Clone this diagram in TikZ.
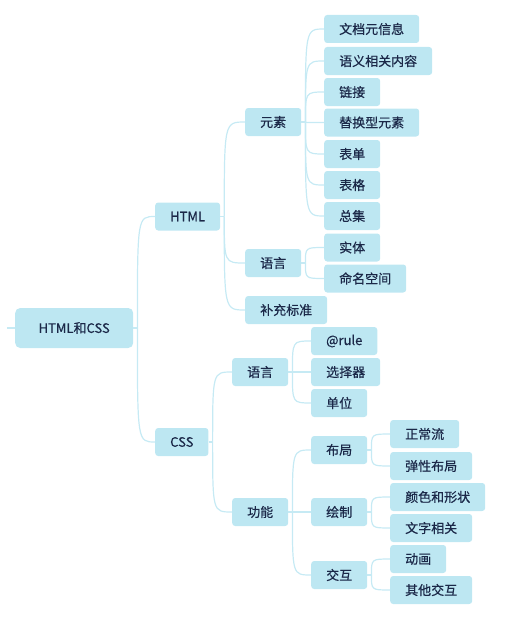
\documentclass[tikz,border=0pt]{standalone}
\usepackage{fontspec}
\setmainfont{Noto Sans CJK SC}[FakeBold=0.5]
\usetikzlibrary{calc}
\definecolor{boxfill}{HTML}{BDE7F2}
\definecolor{linecol}{HTML}{C6EAF4}
\definecolor{txtcol}{HTML}{1B2848}

\begin{document}
\begin{tikzpicture}[x=1pt, y=-1pt,
  box/.style={fill=boxfill, rounded corners=3pt, text=txtcol, anchor=west,
    minimum height=28pt, inner xsep=15pt, inner ysep=0pt, font=\fontsize{13}{15}\selectfont},
  topbox/.style={box, minimum height=40pt, minimum width=118pt, rounded corners=5pt},
  branch/.style={draw=linecol, line width=1.2pt}]
\useasboundingbox (0,0) rectangle (520,618);
% root
\node[topbox] (root) at (15,328) {HTML和CSS};
\coordinate (lstub) at (7,328);
\draw[branch] (lstub) -- (root.west);
% first level
\node[box] (html) at (155,216.5) {HTML};
\node[box] (css) at (155,442) {CSS};
% HTML
\node[box] (elem) at (245,122) {元素};
\node[box] (hlang) at (245,263) {语言};
\node[box] (supp) at (245,310) {补充标准};
\node[box] (meta) at (324,29) {文档元信息};
\node[box] (sema) at (324,61) {语义相关内容};
\node[box] (links) at (324,92) {链接};
\node[box] (repl) at (324,122.5) {替换型元素};
\node[box] (form) at (324,154) {表单};
\node[box] (table) at (324,185) {表格};
\node[box] (misc) at (324,216) {总集};
\node[box] (entity) at (324,247.5) {实体};
\node[box] (nspace) at (324,278.5) {命名空间};
% CSS
\node[box] (clang) at (232,372) {语言};
\node[box] (func) at (232,512) {功能};
\node[box] (atrule) at (311,341) {@rule};
\node[box] (sel) at (311,372) {选择器};
\node[box] (unit) at (311,403) {单位};
\node[box] (layout) at (311,450) {布局};
\node[box] (paint) at (311,512) {绘制};
\node[box] (inter) at (311,575) {交互};
\node[box] (flow) at (390,434) {正常流};
\node[box] (flex) at (390,466) {弹性布局};
\node[box] (color) at (390,497) {颜色和形状};
\node[box] (text) at (390,528) {文字相关};
\node[box] (anim) at (390,559) {动画};
\node[box] (other) at (390,590) {其他交互};
% connectors
\foreach \p/\kids in {root/{html,css}, html/{elem,hlang,supp},
    elem/{meta,sema,links,repl,form,table,misc}, hlang/{entity,nspace},
    css/{clang,func}, clang/{atrule,sel,unit}, func/{layout,paint,inter},
    layout/{flow,flex}, paint/{color,text}, inter/{anim,other}} {
  \draw[branch] (\p.east) -- ++(4,0) coordinate (\p-s);
  \foreach \c in \kids
    \draw[branch] (\p-s) .. controls (\p-s |- \c.west) .. (\c.west);
}
\end{tikzpicture}
\end{document}
